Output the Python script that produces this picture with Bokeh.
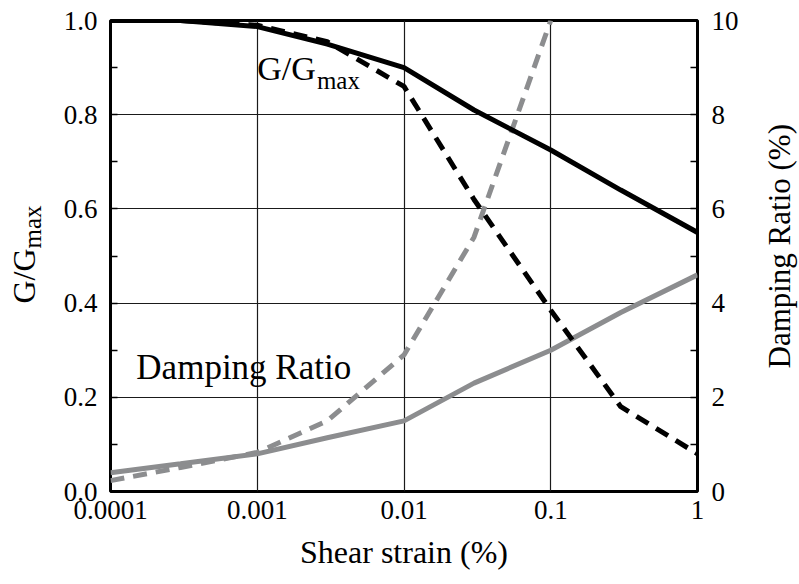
import math
from bokeh.plotting import figure
from bokeh.layouts import row
from bokeh.core.properties import value
from bokeh.models import (LinearAxis, Range1d, FixedTicker, SingleIntervalTicker,
                          PrintfTickFormatter, Label)
from bokeh.embed import file_html
from bokeh.resources import INLINE

# Shear strain (%) sample points
strain = [0.0001, 0.0003, 0.001, 0.003, 0.01, 0.03, 0.1, 0.3, 1.0]
# Modulus reduction curves G/Gmax
g_solid = [1.0, 1.0, 0.987, 0.95, 0.90, 0.81, 0.725, 0.64, 0.55]
g_dashed = [1.0, 1.0, 0.99, 0.955, 0.86, 0.62, 0.385, 0.18, 0.08]
# Damping ratio curves (%)
d_solid = [0.4, 0.59, 0.8, 1.14, 1.5, 2.3, 3.0, 3.8, 4.6]
d_dashed_strain = [0.0001, 0.0003, 0.001, 0.003, 0.01, 0.03, 0.1]
d_dashed = [0.23, 0.51, 0.83, 1.5, 2.9, 5.4, 10.0]

x_ticks = [0.0001, 0.001, 0.01, 0.1, 1.0]
x_tick_labels = ["0.0001", "0.001", "0.01", "0.1", "1"]

FONT = "Liberation Serif"
GRAY = "#8c8d8f"
H = 584
TOP, BOTTOM = 20, 93  # borders around the plotting frame


def side_panel(width):
    """Blank strip holding a rotated axis title; its frame lines up with the chart's."""
    s = figure(width=width, height=H, x_range=Range1d(0, width),
               y_range=Range1d(BOTTOM, H - TOP),
               output_backend="svg", toolbar_location=None, min_border=0,
               min_border_top=TOP, min_border_bottom=BOTTOM,
               x_axis_location=None, y_axis_location=None)
    s.grid.visible = False
    s.outline_line_color = None
    s.background_fill_color = "white"
    s.border_fill_color = "white"
    return s


# main chart
p = figure(width=709, height=H, x_axis_type="log",
           x_range=Range1d(1e-4, 1), y_range=Range1d(0, 1),
           output_backend="svg", toolbar_location=None,
           min_border_left=60, min_border_right=62,
           min_border_top=TOP, min_border_bottom=BOTTOM)
p.background_fill_color = "white"
p.border_fill_color = "white"
p.outline_line_color = "black"
p.outline_line_width = 3

p.extra_y_ranges = {"damp": Range1d(0, 10)}

# bottom axis
xt = FixedTicker(ticks=x_ticks, minor_ticks=[])
p.xaxis.ticker = xt
p.xaxis.major_label_overrides = {t: l for t, l in zip(x_ticks, x_tick_labels)}
p.xgrid.ticker = xt
p.xaxis.axis_label = "Shear strain (%)"
p.xaxis.axis_label_text_font = FONT
p.xaxis.axis_label_text_font_size = "32px"
p.xaxis.axis_label_text_font_style = "normal"
p.xaxis.axis_label_text_color = "black"
p.xaxis.axis_label_standoff = 12

# left axis
yt = SingleIntervalTicker(interval=0.2, num_minor_ticks=2)
p.yaxis.ticker = yt
p.yaxis.formatter = PrintfTickFormatter(format="%.1f")
p.ygrid.ticker = yt

# right axis (damping ratio)
right = LinearAxis(y_range_name="damp",
                   ticker=SingleIntervalTicker(interval=2, num_minor_ticks=2),
                   formatter=PrintfTickFormatter(format="%d"))
p.add_layout(right, "right")

for ax in (p.xaxis[0], p.yaxis[0], right):
    ax.axis_line_color = None
    ax.major_tick_in = 0
    ax.major_tick_out = 0
    ax.minor_tick_out = 0
    ax.minor_tick_in = 7
    ax.minor_tick_line_color = "black"
    ax.minor_tick_line_width = 1.5
    ax.major_label_text_font = FONT
    ax.major_label_text_font_size = "27px"
    ax.major_label_text_color = "black"
p.xaxis.minor_tick_in = 0
p.xaxis.major_label_standoff = 9
p.yaxis.major_label_standoff = 13
right.major_label_standoff = 14

for g in (p.xgrid[0], p.ygrid[0]):
    g.grid_line_color = "#1a1a1a"
    g.grid_line_width = 1.2

# curves
p.line(strain, d_solid, y_range_name="damp", line_color=GRAY, line_width=5)
p.line(d_dashed_strain, d_dashed, y_range_name="damp", line_color=GRAY,
       line_width=5, line_dash="14 9")
p.line(strain, g_solid, line_color="black", line_width=5)
p.line(strain, g_dashed, line_color="black", line_width=5, line_dash="14 9")

# in-plot annotations
p.add_layout(Label(x=0.001, y=0.899, text="G/G", text_font=FONT,
                   text_font_size="34px", text_color="black",
                   text_baseline="alphabetic"))
p.add_layout(Label(x=0.00255, y=0.873, text="max", text_font=FONT,
                   text_font_size="25px", text_color="black",
                   text_baseline="alphabetic"))
p.add_layout(Label(x=0.000150, y=0.263, text="Damping Ratio", text_font=FONT,
                   text_font_size="35px", text_color="black",
                   text_baseline="alphabetic"))

# left title strip: G/Gmax
left = side_panel(50)
left.text(x=[23], y=[H - 303], text=["G/G"], angle=math.pi / 2,
          text_font=value(FONT), text_font_size="32px", text_color="black",
          text_align="left", text_baseline="alphabetic")
left.text(x=[32], y=[H - 248], text=["max"], angle=math.pi / 2,
          text_font=value(FONT), text_font_size="25px", text_color="black",
          text_align="left", text_baseline="alphabetic")

# right title strip: Damping Ratio (%)
rstrip = side_panel(40)
rstrip.text(x=[19.5], y=[H - 368], text=["Damping Ratio (%)"], angle=math.pi / 2,
            text_font=value(FONT), text_font_size="31px", text_color="black",
            text_align="left", text_baseline="alphabetic")

layout = row(left, p, rstrip, spacing=0)
open("out.html", "w").write(file_html(layout, INLINE))
